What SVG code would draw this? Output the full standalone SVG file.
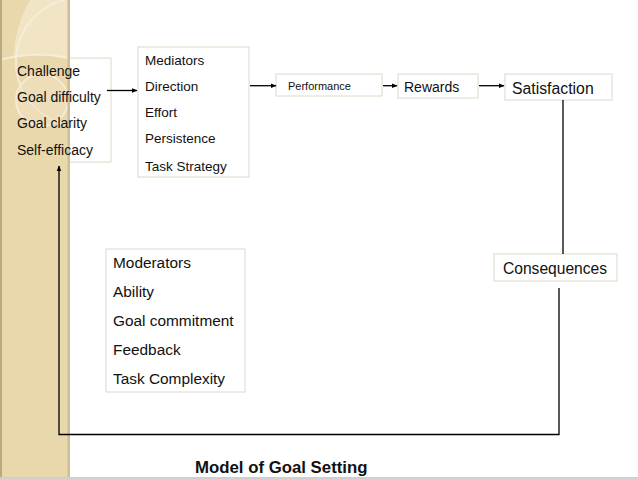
<svg xmlns="http://www.w3.org/2000/svg" width="638" height="479" viewBox="0 0 638 479">
<defs>
<style>
.t{font-family:"Liberation Sans",Arial,sans-serif;fill:#111;}
.box{fill:none;stroke:#dcd8c6;stroke-width:1;}
.ln{fill:none;stroke:#000;stroke-width:1.3;}
.deco{fill:none;stroke:#f7efdc;stroke-width:2;opacity:0.8;}
</style>
<marker id="ah" viewBox="0 0 10 10" refX="9" refY="5" markerWidth="6" markerHeight="6" markerUnits="userSpaceOnUse" orient="auto">
<path d="M0,1 L10,5 L0,9 z" fill="#000"/>
</marker>
<clipPath id="band"><rect x="0" y="0" width="69" height="479"/></clipPath>
</defs>
<rect x="0" y="0" width="638" height="479" fill="#ffffff"/>
<g id="background">
<rect x="0" y="0" width="70" height="477" fill="#ead8ad"/>
<g clip-path="url(#band)">
<path d="M14,58 Q40,52 70,60 L70,0 L30,0 Q14,28 14,58 z" fill="#f1e5c6"/>
<circle cx="80" cy="62" r="64" class="deco"/>
<path d="M0,60 Q35,50 70,58" class="deco"/>
<circle cx="42" cy="100" r="26" fill="#efe2c2" opacity="0.55"/>
<circle cx="42" cy="100" r="26" class="deco" stroke-width="1.5"/>
</g>
<rect x="0" y="0" width="2" height="477" fill="#b9a882"/>
<rect x="67.5" y="0" width="2.5" height="477" fill="#cdbd98"/>
<rect x="0" y="477" width="638" height="2" fill="#cfcfcf"/>
</g>
<g id="inputs">
<path d="M70,58 H111 V162 H70" class="box"/>
<text class="t" x="17" y="76" font-size="14">Challenge</text>
<text class="t" x="17" y="102" font-size="14">Goal difficulty</text>
<text class="t" x="17" y="128" font-size="14">Goal clarity</text>
<text class="t" x="17" y="155" font-size="14">Self-efficacy</text>
</g>
<g id="mediators">
<rect x="138" y="47" width="111" height="130" class="box"/>
<text class="t" x="145" y="65" font-size="13.5">Mediators</text>
<text class="t" x="145" y="91" font-size="13.5">Direction</text>
<text class="t" x="145" y="117" font-size="13.5">Effort</text>
<text class="t" x="145" y="143" font-size="13.5">Persistence</text>
<text class="t" x="145" y="171" font-size="13.5">Task Strategy</text>
</g>
<g id="performance">
<rect x="276" y="74" width="106" height="22" class="box"/>
<text class="t" x="288" y="89.5" font-size="11">Performance</text>
</g>
<g id="rewards">
<rect x="398" y="74" width="80" height="24" class="box"/>
<text class="t" x="404" y="92" font-size="14">Rewards</text>
</g>
<g id="satisfaction">
<rect x="505" y="74" width="107" height="26" class="box"/>
<text class="t" x="512" y="94" font-size="15.8">Satisfaction</text>
</g>
<g id="consequences">
<rect x="494" y="254" width="123" height="27" class="box"/>
<text class="t" x="503" y="273.5" font-size="15.6">Consequences</text>
</g>
<g id="moderators">
<rect x="106" y="249" width="139" height="143" class="box"/>
<text class="t" x="113" y="268" font-size="15.4">Moderators</text>
<text class="t" x="113" y="297" font-size="15.4">Ability</text>
<text class="t" x="113" y="326" font-size="15.4">Goal commitment</text>
<text class="t" x="113" y="355" font-size="15.4">Feedback</text>
<text class="t" x="113" y="384" font-size="15.4">Task Complexity</text>
</g>
<g id="connectors">
<line x1="107" y1="90.5" x2="137" y2="90.5" class="ln" marker-end="url(#ah)"/>
<line x1="250" y1="85.7" x2="276" y2="85.7" class="ln" marker-end="url(#ah)"/>
<line x1="383" y1="85.7" x2="397" y2="85.7" class="ln" marker-end="url(#ah)"/>
<line x1="479" y1="85.7" x2="504" y2="85.7" class="ln" marker-end="url(#ah)"/>
<line x1="563" y1="100" x2="563" y2="254" class="ln"/>
<path d="M559,288 V434.5 H59 V166" class="ln" marker-end="url(#ah)"/>
</g>
<g id="title">
<text class="t" x="195" y="473" font-size="16.8" font-weight="bold">Model of Goal Setting</text>
</g>
</svg>
